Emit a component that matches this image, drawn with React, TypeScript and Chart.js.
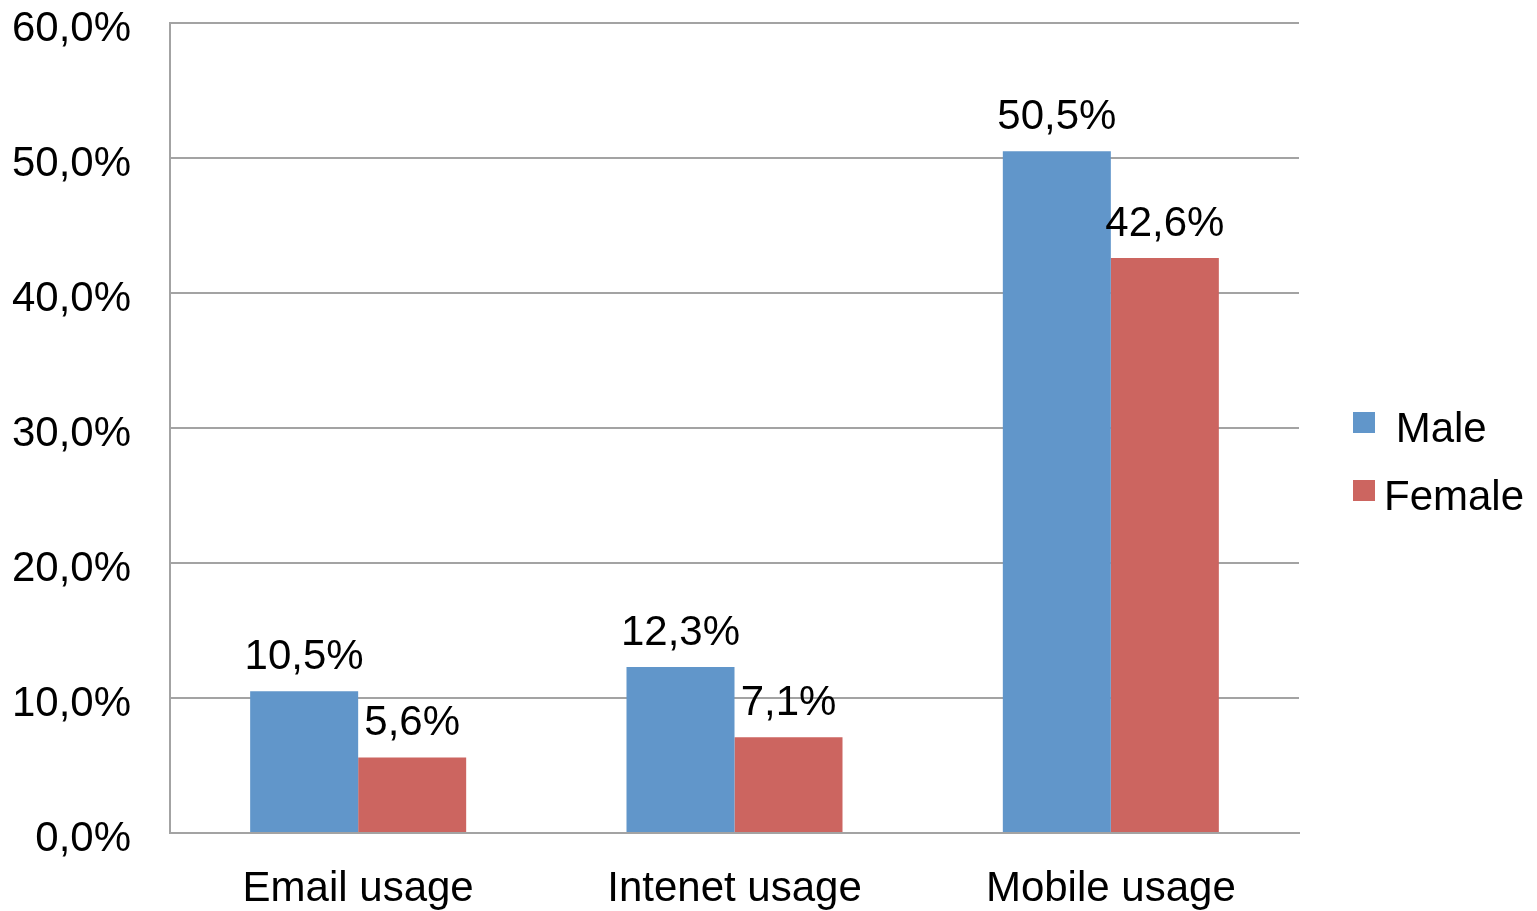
import React, { useEffect, useRef } from "react";
import { Chart, registerables } from "chart.js";

Chart.register(...registerables);

const categories = ["Email usage", "Intenet usage", "Mobile usage"];
const seriesLabels = ["Male", "Female"];
const maleValues = [10.5, 12.3, 50.5];
const femaleValues = [5.6, 7.1, 42.6];
const yTickMin = 0;
const yTickMax = 60;
const yTickStep = 10;

const FONT = "'Liberation Sans', Arial, Helvetica, sans-serif";
const BLUE = "#6196CA";
const RED = "#CC6560";
const GRID = "#A3A3A3";

const fmt = (v: number) => v.toFixed(1).replace(".", ",") + "%";

const valueLabelPlugin = {
  id: "valueLabels",
  afterDatasetsDraw(chart: any) {
    const ctx = chart.ctx;
    ctx.save();
    ctx.font = `42px ${FONT}`;
    ctx.fillStyle = "#000";
    ctx.textAlign = "center";
    ctx.textBaseline = "alphabetic";
    chart.data.datasets.forEach((ds: any, di: number) => {
      const meta = chart.getDatasetMeta(di);
      meta.data.forEach((el: any, i: number) => {
        ctx.fillText(fmt(ds.data[i]), el.x, el.y - 22);
      });
    });
    ctx.restore();
  },
};

const legendPlugin = {
  id: "sideLegend",
  afterDraw(chart: any) {
    const ctx = chart.ctx;
    const area = chart.chartArea;
    const x = area.right + 54;
    const top0 = 412;
    const step = 68;
    ctx.save();
    ctx.font = `42px ${FONT}`;
    ctx.textAlign = "left";
    ctx.textBaseline = "alphabetic";
    chart.data.datasets.forEach((ds: any, i: number) => {
      const top = top0 + i * step;
      ctx.fillStyle = ds.backgroundColor;
      ctx.fillRect(x, top, 22, 21);
      ctx.fillStyle = "#000";
      const text = i === 0 ? " " + ds.label : ds.label;
      ctx.fillText(text, x + 31, top + 30);
    });
    ctx.restore();
  },
};

export default function App() {
  const ref = useRef<HTMLCanvasElement | null>(null);

  useEffect(() => {
    document.body.style.margin = "0";
    document.body.style.overflow = "hidden";
    if (!ref.current) return;
    const chart = new Chart(ref.current, {
      type: "bar",
      data: {
        labels: categories,
        datasets: [
          {
            label: seriesLabels[0],
            data: maleValues,
            backgroundColor: BLUE,
            categoryPercentage: 0.574,
            barPercentage: 1,
          },
          {
            label: seriesLabels[1],
            data: femaleValues,
            backgroundColor: RED,
            categoryPercentage: 0.574,
            barPercentage: 1,
          },
        ],
      },
      options: {
        animation: false,
        responsive: false,
        devicePixelRatio: 1,
        layout: { padding: { top: 23, right: 238, left: 0, bottom: 0 } },
        plugins: {
          legend: { display: false },
          tooltip: { enabled: false },
        },
        scales: {
          x: {
            grid: { display: false, drawTicks: false },
            border: { display: true, color: GRID, width: 2 },
            ticks: {
              color: "#000",
              font: { family: FONT, size: 42, lineHeight: 1 },
              padding: 35,
            },
            afterFit: (s: any) => {
              s.height = 78;
            },
          },
          y: {
            min: yTickMin,
            max: yTickMax,
            grid: { color: GRID, lineWidth: 2, drawTicks: false },
            border: { display: true, color: GRID, width: 2 },
            ticks: {
              stepSize: yTickStep,
              color: "#000",
              font: { family: FONT, size: 42, lineHeight: 1 },
              padding: 39,
              labelOffset: 6,
              callback: (v: any) => fmt(Number(v)),
            },
            afterFit: (s: any) => {
              s.width = 170;
              s.paddingTop = 0;
              s.paddingBottom = 0;
            },
          },
        },
      },
      plugins: [valueLabelPlugin, legendPlugin],
    });
    return () => chart.destroy();
  }, []);

  return (
    <div style={{ width: 1537, height: 911 }}>
      <canvas ref={ref} width={1537} height={911} style={{ display: "block", width: 1537, height: 911 }} />
    </div>
  );
}
